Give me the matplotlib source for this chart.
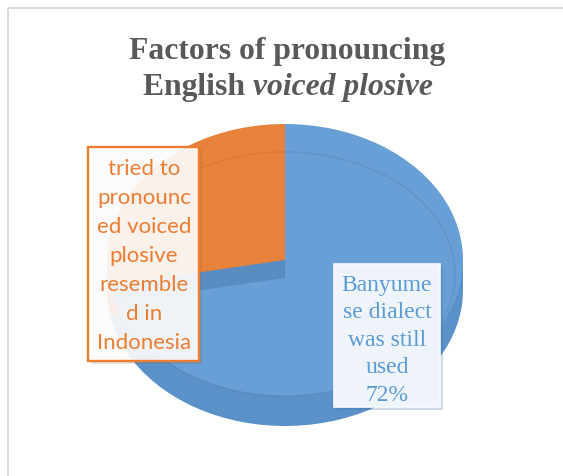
import matplotlib
matplotlib.use('Agg')
import matplotlib.pyplot as plt
import numpy as np
from matplotlib.patches import Rectangle, Polygon, Ellipse

# ---------------- data ----------------
categories = ["Banyumese dialect was still used",
              "tried to pronounced voiced plosive resembled in Indonesia"]
values = [72, 28]
colors_top = ['#679fd6', '#e8823a']
colors_side = ['#5a91c9', '#cc6d2a']
label_lines_blue = ["Banyume", "se dialect", "was still", "used", "72%"]
label_lines_orange = ["tried to", "pronounc", "ed voiced", "plosive",
                      "resemble", "d in", "Indonesia"]
title_line1 = "Factors of pronouncing"
title_line2a = "English "
title_line2b = "voiced plosive"

W, H = 563, 477
fig = plt.figure(figsize=(W / 100, H / 100), dpi=100)
fig.patch.set_facecolor('white')


def fx(px):
    return px / W


def fy(py):
    return 1 - py / H


# ---------------- pie (pseudo 3D) ----------------
cx, cy, rx, ry, depth = 285, 261, 178, 136, 30
dd = depth / ry
axp = fig.add_axes([fx(cx - rx), fy(cy + ry + depth), 2 * rx / W,
                    (2 * ry + depth) / H], zorder=1)
axp.pie(values, colors=colors_side, startangle=90, counterclock=False,
        center=(0, -dd), wedgeprops=dict(linewidth=0))
axp.add_patch(Rectangle((-1, -dd), 2, dd, facecolor=colors_side[0], lw=0))
axp.pie(values, colors=colors_top, startangle=90, counterclock=False,
        wedgeprops=dict(linewidth=0))
# bevel ring
axp.add_patch(Ellipse((0, -14 / ry), 2 * 170 / rx, 2 * 122 / ry, fill=False,
                      edgecolor='black', alpha=0.06, lw=1.2))
# exposed cut face under the orange slice
t = np.deg2rad(90 - 360 * values[0] / sum(values))
b = 18 / ry
axp.add_patch(Polygon([(0, 0), (np.cos(t), np.sin(t)),
                       (np.cos(t), np.sin(t) - b), (0, -b)],
                      closed=True, facecolor='#4f7fb3', alpha=0.55, lw=0))
axp.set_xlim(-1, 1)
axp.set_ylim(-1 - dd, 1)
axp.set_aspect('auto')
axp.axis('off')

# ---------------- overlay (pixel coords) ----------------
ov = fig.add_axes([0, 0, 1, 1], zorder=2)
ov.set_xlim(0, W)
ov.set_ylim(H, 0)
ov.axis('off')
ov.patch.set_alpha(0)

# chart frame
ov.plot([8, 8], [9, H + 5], color='#d9d9d9', lw=1.4, solid_capstyle='butt')
ov.plot([8, W + 5], [9, 9], color='#d9d9d9', lw=1.4, solid_capstyle='butt')

# title
tfs = 22.8
ov.text(287, 59, title_line1, ha='center', va='baseline',
        family='Liberation Serif', weight='bold', fontsize=tfs,
        color='#595959')
r = fig.canvas.get_renderer()
ta = ov.text(0, 95, title_line2a, ha='left', va='baseline',
             family='Liberation Serif', weight='bold', fontsize=tfs,
             color='#595959')
tb = ov.text(0, 95, title_line2b, ha='left', va='baseline',
             family='Liberation Serif', weight='bold', style='italic',
             fontsize=tfs, color='#595959')
wa = ta.get_window_extent(r).width
wb = tb.get_window_extent(r).width
x0 = 288 - (wa + wb) / 2
ta.set_x(x0)
tb.set_x(x0 + wa)

# orange label box
ov.add_patch(Rectangle((91, 151), 111, 214, facecolor='#7a5a40', alpha=0.18,
                       lw=0))
ov.add_patch(Rectangle((88, 148), 111, 214, facecolor='white', alpha=0.9,
                       edgecolor='none'))
ov.add_patch(Rectangle((88, 148), 111, 214, fill=False, edgecolor='#ed7d31',
                       lw=1.7))
for i, line in enumerate(label_lines_orange):
    ov.text(144, 175 + i * 29.0, line, ha='center', va='baseline',
            family='Lato', fontsize=16, color='#ed7d31')

# blue label box
ov.add_patch(Rectangle((337, 268), 106, 143, facecolor='#3d6ea6', alpha=0.25,
                       lw=0))
ov.add_patch(Rectangle((334, 265), 106, 143, facecolor='#eff4fb',
                       edgecolor='#f7faff', lw=1.2))
for i, line in enumerate(label_lines_blue):
    ov.text(387, 290.7 + i * 27.5, line, ha='center', va='baseline',
            family='Liberation Serif', fontsize=17, color='#5b9bd5')

fig.savefig('out.png', dpi=100, facecolor='white')
